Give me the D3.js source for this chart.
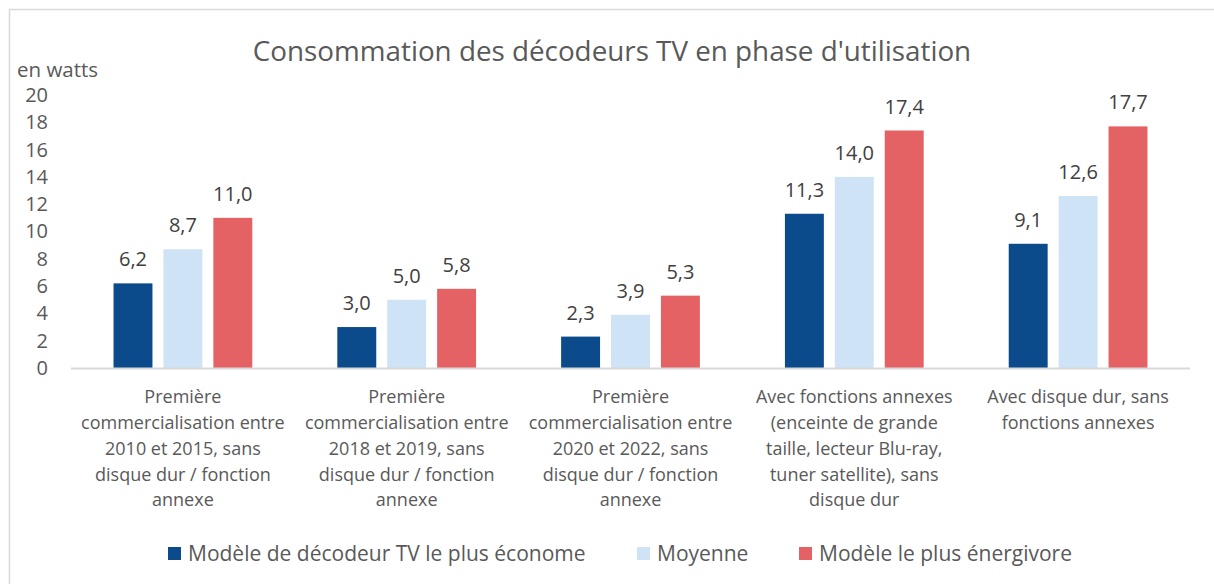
<!DOCTYPE html>
<html>
<head>
<meta charset="utf-8">
<script src="https://cdn.jsdelivr.net/npm/d3@7"></script>
<style>
  body { margin: 0; background: #fff; }
  text { font-family: "Open Sans", sans-serif; }
</style>
</head>
<body>
<div id="chart"></div>
<script>
// data
const categories = [
    "Première\ncommercialisation entre\n2010 et 2015, sans\ndisque dur / fonction\nannexe",
    "Première\ncommercialisation entre\n2018 et 2019, sans\ndisque dur / fonction\nannexe",
    "Première\ncommercialisation entre\n2020 et 2022, sans\ndisque dur / fonction\nannexe",
    "Avec fonctions annexes\n(enceinte de grande\ntaille, lecteur Blu-ray,\ntuner satellite), sans\ndisque dur",
    "Avec disque dur, sans\nfonctions annexes"
]
const series_names = ["Modèle de décodeur TV le plus économe", "Moyenne", "Modèle le plus énergivore"]
const econome = [6.2, 3.0, 2.3, 11.3, 9.1]
const moyenne = [8.7, 5.0, 3.9, 14.0, 12.6]
const energivore = [11.0, 5.8, 5.3, 17.4, 17.7]
const y_ticks = [0, 2, 4, 6, 8, 10, 12, 14, 16, 18, 20]
const colors = ["#0b4b8b", "#cfe3f6", "#e46264"]

const W = 1214, H = 584
const margin = {top: 95, right: 24, bottom: 216, left: 71}
const width = W - margin.left - margin.right,
    height = H - margin.top - margin.bottom

const svg = d3.select("#chart").append("svg")
    .attr("width", W)
    .attr("height", H)

// outer frame (runs past the picture on right / bottom)
svg.append("rect")
    .attr("x", 9.5).attr("y", 9.5)
    .attr("width", W + 20).attr("height", H + 20)
    .attr("fill", "#fff")
    .attr("stroke", "#d9d9d9")
    .attr("stroke-width", 1.5)

svg.append("text")
    .attr("x", 612).attr("y", 61)
    .attr("text-anchor", "middle")
    .style("font-size", "27.8px")
    .attr("fill", "#595959")
    .text("Consommation des décodeurs TV en phase d'utilisation")

svg.append("text")
    .attr("x", 17).attr("y", 77)
    .style("font-size", "20.5px")
    .attr("fill", "#595959")
    .text("en watts")

const g = svg.append("g")
    .attr("transform", "translate(" + margin.left + "," + margin.top + ")")

const x0 = d3.scaleBand()
    .domain(d3.range(categories.length))
    .range([0, width])
    .paddingInner(0.38)
    .paddingOuter(0.19)
const x1 = d3.scaleBand()
    .domain([0, 1, 2])
    .range([0, x0.bandwidth()])
    .paddingInner(0.22)
const y = d3.scaleLinear()
    .domain([0, 20])
    .range([height, 0])

// y axis labels only
g.append("g")
    .attr("class", "yaxis")
    .call(d3.axisLeft(y)
        .tickValues(y_ticks)
        .tickSize(0)
        .tickPadding(23)
        .tickFormat(d3.format("d")))
    .call(a => a.select(".domain").remove())
    .selectAll("text")
    .style("font-size", "20px")
    .style("font-family", "Open Sans, sans-serif")
    .attr("fill", "#595959")

const all_series = [econome, moyenne, energivore]

all_series.forEach(function (vals, s) {
    g.selectAll(".bar" + s)
        .data(vals)
        .enter()
        .append("rect")
        .attr("x", (d, i) => x0(i) + x1(s))
        .attr("y", d => y(d))
        .attr("width", x1.bandwidth())
        .attr("height", d => y(0) - y(d))
        .attr("fill", colors[s])

    g.selectAll(".lab" + s)
        .data(vals)
        .enter()
        .append("text")
        .attr("x", (d, i) => x0(i) + x1(s) + x1.bandwidth() / 2)
        .attr("y", d => y(d) - 17)
        .attr("text-anchor", "middle")
        .style("font-size", "20px")
        .attr("fill", "#404040")
        .text(d => d3.format(".1f")(d).replace(".", ","))
})

// x axis line
g.append("line")
    .attr("x1", 0).attr("x2", width)
    .attr("y1", height + 0.5).attr("y2", height + 0.5)
    .attr("stroke", "#d9d9d9")
    .attr("stroke-width", 2)

// category labels
const step = width / categories.length
categories.forEach(function (c, i) {
    const t = g.append("text")
        .attr("text-anchor", "middle")
        .style("font-size", "18px")
        .attr("fill", "#595959")
    c.split("\n").forEach(function (line, k) {
        t.append("tspan")
            .attr("x", step * (i + 0.5))
            .attr("y", height + 35 + k * 25.85)
            .text(line)
    })
})

// legend
const legend_x = [168, 637, 799]
series_names.forEach(function (name, s) {
    svg.append("rect")
        .attr("x", legend_x[s]).attr("y", 547)
        .attr("width", 13).attr("height", 13)
        .attr("fill", colors[s])
    svg.append("text")
        .attr("x", legend_x[s] + 20).attr("y", 561)
        .style("font-size", "21px")
        .attr("fill", "#595959")
        .text(name)
})
</script>
</body>
</html>
